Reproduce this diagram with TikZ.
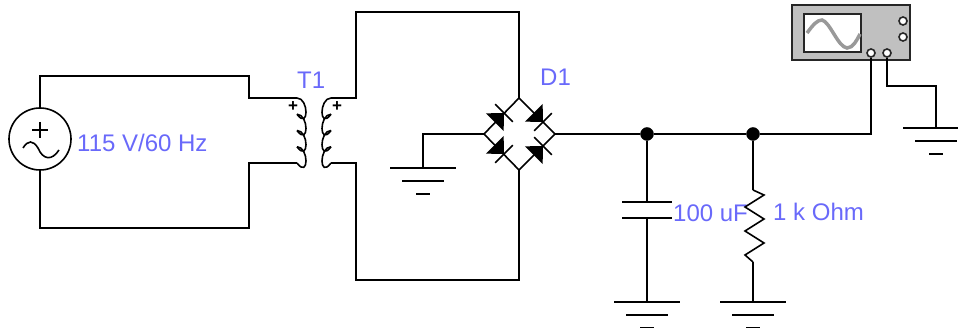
\documentclass[tikz,border=0pt]{standalone}
\usepackage{fontspec}
\setmainfont{Liberation Sans}
\usetikzlibrary{positioning,calc}
\definecolor{labelblue}{RGB}{105,105,250}
\definecolor{scopegray}{RGB}{192,192,192}
\tikzstyle{wire} = [draw, line width=2pt, line join=miter]
\tikzstyle{thin wire} = [draw, line width=1.6pt]
\tikzstyle{dot} = [draw, fill=black, circle, inner sep=0pt, minimum size=13pt]
\tikzstyle{value} = [text=labelblue, inner sep=0pt, anchor=west, font=\fontsize{24}{24}\selectfont]
\tikzstyle{polarity} = [inner sep=0pt, font=\fontsize{17}{17}\selectfont\bfseries]
\tikzstyle{term} = [draw=black!85, fill=white, circle, line width=1.6pt, inner sep=0pt, minimum size=8pt]
\tikzset{source/.style={
    draw, circle, thin wire, inner sep=0pt, minimum size=62pt,
    path picture={
        \draw[line width=1.8pt] (0,-17) -- (0,-1) (-8,-9) -- (8,-9);
        \draw[line width=1.6pt] (-17,9) .. controls (-12,1) and (-7,1) .. (-2,9) .. controls (3,21) and (12,22) .. (19,11);
        }
    }
}
% ground: three bars under a node
\newcommand{\myground}[2]{
    \node [coordinate] (#1) at #2 {};
    \draw [wire] ($(#1)+(-33,0)$) -- ($(#1)+(33,0)$);
    \draw [wire] ($(#1)+(-21,13)$) -- ($(#1)+(21,13)$);
    \draw [wire] ($(#1)+(-7,26)$) -- ($(#1)+(7,26)$);
}
% diode: apex at the bar
\newcommand{\mydiode}[2]{
    \begin{scope}[shift={#1}, rotate=#2]
        \fill (0,0) -- (-13,-12.5) -- (-13,12.5) -- cycle;
        \draw [thin wire] (0,-12.5) -- (0,12.5);
    \end{scope}
}
% coil: four bumps, #2 is the side they point to
\newcommand{\mycoil}[2]{
    \foreach \i in {0,...,3} {
        \draw [thin wire] ($(#1)+(0,\i*16.25)$) .. controls +(#2*12,0) and +(#2*12,16.25) .. +(0,16.25);
    }
}
\begin{document}
\begin{tikzpicture}[x=1pt, y=-1pt]
    \useasboundingbox (0,0) rectangle (958,328);

    % primary
    \node [source] (vs) at (40,139) {};
    \node [value] (vslabel) at (77,143) {115 V/60 Hz};
    \node [coordinate] (ptop) at (297,98) {};
    \node [coordinate] (pbot) at (297,163) {};
    \draw [wire] (vs.north) |- (249,76) |- (ptop);
    \draw [wire] (vs.south) |- (249,228) |- (pbot);
    \mycoil{ptop}{1}
    \node [value] (t1label) at (297,80) {T1};
    \node [polarity] (pplus) at (293,107) {+};

    % secondary
    \node [coordinate] (stop) at (331,98) {};
    \node [coordinate] (sbot) at (331,163) {};
    \mycoil{stop}{-1}
    \node [polarity] (splus) at (337,107) {+};

    % bridge
    \node [coordinate] (dtop) at (519,98) {};
    \node [coordinate] (dbot) at (519,170) {};
    \node [coordinate] (dleft) at (484,134) {};
    \node [coordinate] (dright) at (555,134) {};
    \draw [thin wire] (dleft) -- (dtop) -- (dright) -- (dbot) -- cycle;
    \mydiode{(504,113)}{45}
    \mydiode{(543,122)}{-45}
    \mydiode{(504,154)}{-45}
    \mydiode{(543,146)}{45}
    \node [value] (d1label) at (540,77) {D1};
    \draw [wire] (stop) -| (356,12) -| (dtop);
    \draw [wire] (sbot) -| (356,280) -| (dbot);

    \myground{gbridge}{(423,168)}
    \draw [wire] (dleft) -| (gbridge);

    % load
    \node [dot] (n1) at (647,134) {};
    \node [dot] (n2) at (753,134) {};
    \node [coordinate] (cup) at (647,202) {};
    \node [coordinate] (cdown) at (647,218) {};
    \draw [wire] (dright) -- (n1) -- (n2);
    \draw [wire] (n1) -- (cup);
    \draw [wire] ($(cup)+(-25,0)$) -- ($(cup)+(25,0)$);
    \draw [wire] ($(cdown)+(-25,0)$) -- ($(cdown)+(25,0)$);
    \myground{gcap}{(647,302)}
    \draw [wire] (cdown) -- (gcap);
    \node [value] (clabel) at (673,213) {100 uF};

    \node [coordinate] (rup) at (753,190) {};
    \node [coordinate] (rdown) at (753,262) {};
    \draw [wire] (n2) -- (rup);
    \draw [thin wire] (rup) -- ++(11,5) -- ++(-19,12) -- ++(19,12) -- ++(-19,12) -- ++(19,12) -- ++(-19,12) -- (rdown);
    \myground{gres}{(753,302)}
    \draw [wire] (rdown) -- (gres);
    \node [value] (rlabel) at (773,212) {1 k Ohm};

    % scope
    \node [draw=black!85, fill=scopegray, line width=2pt, minimum width=118pt, minimum height=55pt, inner sep=0pt] (scope) at (851,33) {};
    \node [draw=black!85, fill=white, line width=2pt, minimum width=57pt, minimum height=38pt, inner sep=0pt] (screen) at (832,33) {};
    \draw [line width=3.5pt, color=black!40] (807,33) .. controls (813,25) and (817,20) .. (822,20) .. controls (830,22) and (838,47) .. (847,48) .. controls (853,48) and (857,40) .. (860,34);
    \node [term] (ta) at (871,53) {};
    \node [term] (tb) at (887,53) {};
    \node [term] (tc) at (903,21) {};
    \node [term] (td) at (903,37) {};
    \myground{gscope}{(936,128)}
    \draw [wire] (n2) -| (ta);
    \draw [wire] (tb) |- (936,86) -- (gscope);
\end{tikzpicture}
\end{document}
